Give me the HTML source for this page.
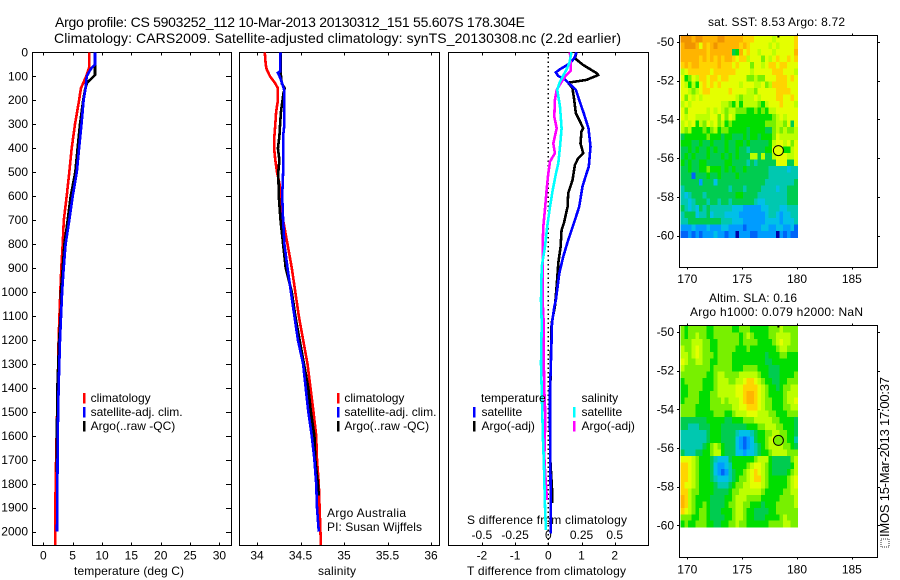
<!DOCTYPE html>
<html lang="en">
<head>
<meta charset="utf-8">
<title>Argo profile</title>
<style>
html,body{margin:0;padding:0;background:#fff;}
svg{display:block;font-family:"Liberation Sans",sans-serif;font-size:12px;fill:#000;}
</style>
</head>
<body>
<svg id="fig" xmlns="http://www.w3.org/2000/svg" width="900" height="580" viewBox="0 0 900 580">
<rect x="0" y="0" width="900" height="580" fill="#fff"/>
<text x="55" y="27" font-size="14" textLength="470" lengthAdjust="spacing">Argo profile: CS 5903252_112 10-Mar-2013 20130312_151 55.607S 178.304E</text>
<text x="54" y="43" font-size="14" textLength="567" lengthAdjust="spacing">Climatology: CARS2009. Satellite-adjusted climatology: synTS_20130308.nc (2.2d earlier)</text>
<text x="74" y="575" textLength="110" lengthAdjust="spacing">temperature (deg C)</text>
<text x="318" y="575" textLength="38" lengthAdjust="spacing">salinity</text>
<text x="467" y="575" textLength="159" lengthAdjust="spacing">T difference from climatology</text>
<text x="467" y="524" textLength="160" lengthAdjust="spacing">S difference from climatology</text>
<text x="327" y="517" textLength="79" lengthAdjust="spacing">Argo Australia</text>
<text x="327" y="531" textLength="95" lengthAdjust="spacing">PI: Susan Wijffels</text>
<text x="708" y="26" textLength="137" lengthAdjust="spacing">sat. SST: 8.53 Argo: 8.72</text>
<text x="709" y="302" textLength="88" lengthAdjust="spacing">Altim. SLA: 0.16</text>
<text x="690" y="316" textLength="173" lengthAdjust="spacing">Argo h1000: 0.079 h2000: NaN</text>
<rect x="881" y="539" width="8" height="8" fill="none" stroke="#333" stroke-width="1" stroke-dasharray="1 1"/>
<text transform="translate(889,537) rotate(-90)" textLength="160" lengthAdjust="spacing" font-size="13">IMOS 15-Mar-2013 17:00:37</text>
<g id="layer"></g>
</svg>
<script>
// ---- Profile data ----
var depthTicks = [0,100,200,300,400,500,600,700,800,900,1000,1100,1200,1300,1400,1500,1600,1700,1800,1900,2000];
var tempTicks = [0,5,10,15,20,25,30];
var salTicks = [34,34.5,35,35.5,36];
var tDiffTicks = [-2,-1,0,1,2];
var sDiffLabels = ["-0.5","-0.25","0","0.25","0.5"];
var lonTicks = [170,175,180,185];
var latTicks = [-50,-52,-54,-56,-58,-60];

var tempClimDepth = [0,60,100,150,200,300,400,500,600,700,800,900,1000,1200,1400,1600,1800,2055];
var tempClim = [7.84,7.84,7.3,6.4,6.1,5.4,4.83,4.43,3.98,3.5,3.3,3.07,2.9,2.6,2.45,2.27,2.1,2.05];
var tempSatDepth = [0,50,70,100,150,200,300,400,500,600,700,800,900,1000,1200,1400,1600,1800,2000];
var tempSat = [8.8,8.8,8.07,7.4,7.2,6.87,6.5,6.1,5.7,5.0,4.43,3.8,3.47,3.2,2.85,2.6,2.45,2.4,2.33];
var tempArgoDepth = [0,50,95,110,125,150,200,300,400,500,600,700,800,900,1000,1060,1200,1400,1700,1750];
var tempArgo = [8.8,8.8,8.8,8.2,7.5,7.15,6.8,6.25,5.85,5.45,4.66,4.15,3.6,3.3,3.0,3.05,2.7,2.4,2.27,2.27];

var salClimDepth = [0,50,70,100,130,150,200,250,300,350,400,450,500,550,600,700,800,900,1000,1100,1200,1300,1400,1500,1600,1700,1800,1900,2055];
var salClim = [34.09,34.1,34.11,34.15,34.21,34.24,34.24,34.22,34.21,34.2,34.196,34.21,34.23,34.26,34.28,34.3,34.35,34.4,34.44,34.48,34.53,34.58,34.615,34.65,34.68,34.69,34.71,34.72,34.735];
var salSatDepth = [0,80,85,100,130,160,300,350,450,500,600,700,800,900,1000,1100,1200,1300,1400,1500,1600,1700,1800,1900,2000];
var salSat = [34.27,34.265,34.24,34.26,34.29,34.315,34.315,34.3,34.3,34.3,34.29,34.3,34.315,34.35,34.39,34.43,34.47,34.53,34.56,34.59,34.63,34.66,34.68,34.69,34.71];
var salArgoDepth = [0,80,130,150,170,250,300,350,400,450,500,600,700,800,900,1000,1100,1200,1300,1400,1500,1600,1700,1800,1850];
var salArgo = [34.27,34.27,34.285,34.32,34.305,34.275,34.265,34.257,34.24,34.257,34.245,34.25,34.27,34.3,34.33,34.4,34.44,34.49,34.54,34.59,34.62,34.66,34.67,34.7,34.71];

var tDiffSatDepth = [0,25,46,71,84,99,113,127,157,199,255,317,394,477,519,560,644,713,783,853,922,1033,1061,1131,1242,1409,1548,1826,2007];
var tDiffSat = [0.85,0.78,0.65,0.35,0.23,0.3,0.5,0.6,0.83,0.93,1.07,1.21,1.27,1.22,1.12,1.03,0.93,0.77,0.6,0.45,0.33,0.23,0.18,0.11,0.09,0.05,0.05,0.07,0.07];
var tDiffArgoDepth = [0,25,53,88,95,115,127,150,199,255,282,317,331,380,421,442,470,533,588,644,713,741,811,880,978,1061,1131,1400,1700,1842,1880];
var tDiffArgo = [0.85,0.8,1.05,1.47,1.5,1.15,0.6,0.73,0.78,0.83,0.93,1.05,1,0.97,1.05,0.9,0.8,0.73,0.6,0.58,0.47,0.4,0.37,0.3,0.25,0.2,0.1,0.06,0.06,0.12,0.12];
var sDiffSatDepth = [0,46,71,102,129,157,227,317,394,463,505,575,644,727,811,894,1033,1131,1298,1409,1617,1715,1895,1993];
var sDiffSat = [0.175,0.158,0.138,0.108,0.083,0.068,0.088,0.1,0.088,0.075,0.058,0.033,0.013,-0.008,-0.025,-0.05,-0.055,-0.05,-0.055,-0.05,-0.04,-0.033,-0.025,-0.018];
var sDiffArgoDepth = [0,46,77,102,129,157,199,269,317,380,421,456,505,575,644,727,811,922,1033,1131,1270,1409,1479,1548,1687,1757,1868];
var sDiffArgo = [0.163,0.168,0.168,0.125,0.093,0.063,0.05,0.045,0.063,0.038,0.05,0.013,0,-0.013,-0.023,-0.038,-0.043,-0.043,-0.043,-0.035,-0.035,-0.03,-0.025,-0.023,-0.03,-0.023,-0.01];

// ---- Map data: colour-scale level per cell, north to south, west to east ----
var sstGrid = [
[12,12,12,11,12,12,11,11,11,11,12,12,11,11,11,11,11,10,10,10,9,9,9,9,9,8,9,9,9,9,9,10],
[11,12,12,12,11,9,11,10,11,12,11,11,11,11,11,11,10,11,10,9,9,9,9,9,8,9,8,9,9,9,9,10],
[11,11,11,11,11,11,11,10,11,11,11,11,11,11,5,6,11,9,10,9,9,8,9,9,9,8,9,9,9,9,9,11],
[11,11,11,11,11,10,11,10,11,10,11,10,11,11,10,9,10,10,8,9,9,9,7,9,8,9,10,9,9,10,9,10],
[10,11,10,11,11,10,10,10,10,10,11,10,10,10,9,10,9,9,9,7,9,9,8,9,10,10,9,10,10,9,9,9],
[8,9,10,10,10,10,10,10,9,10,10,10,10,10,10,9,9,9,9,8,9,9,9,9,9,10,10,10,9,9,9,8],
[9,6,7,9,8,10,10,9,10,10,9,10,10,9,9,9,9,9,7,7,8,7,7,9,9,9,10,10,10,9,10,9],
[9,8,6,8,6,9,10,9,10,9,10,9,9,9,9,9,8,9,9,9,8,8,9,7,8,10,10,10,10,9,9,9],
[9,9,8,7,8,9,10,10,9,9,9,9,9,10,9,9,9,9,8,8,7,9,9,9,9,9,10,10,10,10,9,9],
[9,7,9,8,9,8,9,9,9,9,9,9,9,9,9,8,7,8,8,8,9,8,9,9,9,9,10,10,9,9,10,9],
[8,9,8,9,9,9,9,9,9,9,9,8,8,7,6,8,6,8,8,8,8,7,6,8,9,9,9,10,9,9,9,8],
[9,7,9,9,9,9,9,8,9,8,9,8,7,8,8,7,7,7,6,6,7,6,7,6,8,8,9,9,9,9,9,9],
[9,8,9,9,8,8,8,8,9,9,7,9,7,9,8,6,6,6,6,6,6,6,6,6,6,7,8,9,8,9,9,9],
[8,9,8,9,6,8,7,9,8,9,7,8,6,7,6,6,6,6,6,6,6,6,6,7,7,7,8,8,7,9,5,9],
[8,7,8,6,6,6,7,6,7,8,6,7,7,6,6,6,6,6,5,6,6,6,6,5,5,7,8,7,8,7,7,8],
[5,6,6,6,6,6,6,7,6,6,6,5,6,6,5,5,5,6,5,6,6,5,6,6,6,7,9,8,8,8,8,8],
[6,6,6,5,5,6,5,5,6,5,5,5,6,5,5,6,6,5,6,5,5,5,5,5,6,8,9,9,8,9,7,9],
[5,5,6,5,6,5,5,6,5,6,5,5,6,5,5,6,5,5,4,5,5,5,5,6,6,9,9,8,6,6,8,9],
[5,6,5,6,5,5,5,6,5,5,5,6,5,6,5,6,5,5,5,8,8,5,8,5,5,8,9,9,9,8,8,9],
[6,5,6,5,5,6,6,5,5,5,5,5,6,6,5,5,5,5,4,5,4,5,5,5,5,5,9,9,9,5,5,9],
[5,5,6,5,5,6,6,7,6,6,6,5,6,5,6,5,5,6,5,5,5,5,5,5,4,4,4,4,4,3,4,4],
[5,5,5,1,5,5,5,6,5,5,6,5,5,5,5,6,5,5,5,5,5,5,5,5,4,4,4,4,4,4,4,4],
[5,5,5,5,5,2,5,5,5,3,5,5,5,5,5,5,5,5,5,5,5,5,5,4,4,4,4,4,4,4,4,5],
[4,5,5,5,5,5,5,5,5,5,5,5,5,4,5,5,5,4,5,5,5,5,4,4,4,4,3,4,4,5,5,5],
[4,3,4,5,5,5,4,5,5,5,5,5,5,5,5,6,6,5,5,5,5,4,4,4,4,4,4,4,4,5,5,5],
[4,4,3,4,5,5,5,4,5,5,4,5,5,4,5,5,5,5,5,5,4,3,3,4,4,4,4,4,4,5,5,5],
[5,4,3,4,3,5,4,5,4,4,4,4,4,4,3,3,3,2,2,2,2,2,3,3,4,4,4,3,3,4,4,4],
[4,5,5,5,3,4,4,5,3,4,4,4,3,3,3,3,2,2,2,2,2,2,2,3,4,4,3,2,3,3,4,4],
[4,4,5,5,5,5,5,5,5,5,5,4,4,4,3,3,3,2,2,2,2,2,2,3,3,3,3,2,3,3,3,4],
[2,2,2,3,2,2,2,3,2,2,2,3,3,2,2,2,2,1,2,2,2,2,3,3,2,2,3,3,2,2,3,1],
[1,1,2,1,2,1,2,2,2,3,2,2,1,2,2,0,2,2,2,1,1,2,2,2,2,2,0,2,1,2,1,1]
];
var slaGrid = [
[7,6,7,7,7,7,7,6,6,7,7,7,7,7,6,6,7,7,7,6,6,6,6,6,7,7,7,8,7,7,7,7],
[7,6,7,7,8,7,7,6,6,7,7,7,7,7,7,7,6,7,8,7,6,6,6,6,7,7,8,8,8,8,7,7],
[7,7,7,8,8,8,7,7,6,6,7,7,7,7,7,7,6,7,7,7,7,6,6,6,6,7,8,9,8,8,7,7],
[8,7,7,8,9,8,7,7,6,6,7,7,7,7,7,6,6,6,7,6,6,6,6,6,6,6,7,8,8,7,7,7],
[8,8,7,8,9,8,7,7,7,6,7,7,7,7,6,6,6,6,6,6,6,6,6,5,6,6,6,7,7,6,6,6],
[9,8,7,7,8,8,7,7,6,6,7,7,7,7,6,6,6,6,6,6,6,6,6,5,5,6,6,6,6,6,6,6],
[8,7,7,7,7,7,7,7,6,7,7,7,7,7,6,6,6,7,7,7,7,6,6,6,5,5,5,6,6,6,6,6],
[7,7,7,7,7,7,7,6,6,7,8,8,7,7,7,7,8,8,8,8,8,7,6,6,5,5,5,6,6,6,6,7],
[6,7,7,7,7,7,6,6,6,7,8,8,8,7,7,8,8,9,10,10,9,8,7,6,6,5,5,6,6,7,7,7],
[6,6,7,7,7,7,6,6,6,7,8,8,8,8,8,9,9,10,10,10,10,9,8,7,6,6,5,6,7,7,8,8],
[6,6,7,7,7,6,6,6,7,7,8,8,8,8,8,9,9,10,11,11,10,9,8,7,6,6,6,6,7,8,8,8],
[6,7,7,7,7,6,6,6,7,7,7,8,7,8,8,8,9,10,11,11,10,9,8,7,7,6,6,6,7,8,8,9],
[7,7,7,7,6,6,6,6,7,7,7,7,7,7,8,8,9,9,10,10,10,9,8,7,7,6,6,6,7,7,8,8],
[7,7,7,7,6,6,6,6,6,7,7,7,6,6,7,8,8,8,9,9,9,8,8,8,7,7,6,6,6,7,7,7],
[5,5,5,5,5,5,5,6,6,6,6,6,5,5,6,6,6,7,7,7,8,8,8,8,8,7,7,6,6,6,6,5],
[5,5,4,4,4,5,5,5,6,6,6,5,5,5,5,5,5,5,6,6,6,7,7,8,8,8,7,7,6,6,6,5],
[4,4,4,4,4,4,4,5,6,6,6,5,5,5,5,4,3,3,3,4,5,6,6,7,7,8,8,7,7,6,6,5],
[4,4,4,4,4,4,4,5,6,6,6,5,5,5,5,3,2,1,2,3,5,6,6,7,8,9,9,8,7,6,6,4],
[4,4,4,4,4,4,5,6,7,8,7,6,5,5,5,3,2,1,2,3,4,5,6,7,8,8,8,8,7,7,6,5],
[5,4,4,4,5,5,6,6,7,8,8,6,5,5,5,3,3,2,3,3,4,5,6,6,7,8,8,8,8,7,7,7],
[9,9,9,8,7,6,6,6,5,4,3,3,3,5,6,6,6,6,6,6,7,8,8,8,6,5,5,5,5,5,7,8],
[10,10,9,8,7,6,6,6,5,3,2,2,3,4,6,6,6,6,7,8,9,9,8,7,6,5,5,5,5,5,6,8],
[10,10,9,8,7,6,6,6,5,3,2,1,2,4,5,6,6,7,8,9,10,9,8,7,6,5,5,5,5,6,7,8],
[10,10,9,8,7,6,6,6,5,4,3,3,3,4,5,6,7,7,8,9,10,10,8,7,6,6,6,6,6,7,8,9],
[10,9,9,8,7,6,6,6,6,5,4,4,4,5,6,7,7,8,8,9,9,9,8,7,6,6,6,6,6,7,8,9],
[10,10,8,7,7,6,6,6,6,5,5,5,5,6,7,7,8,8,8,8,8,8,7,6,6,6,6,6,7,7,8,8],
[11,10,8,7,6,6,6,6,5,5,5,5,6,6,7,8,8,8,7,7,7,7,6,6,6,6,6,7,7,7,7,8],
[11,10,8,7,6,6,7,6,5,5,5,5,6,7,7,8,8,7,7,6,6,6,5,6,6,6,7,7,7,7,7,8],
[10,9,8,7,6,7,7,6,5,5,5,6,6,6,7,8,8,7,6,6,5,5,5,5,6,6,7,7,7,7,7,7],
[7,7,7,6,6,7,7,6,5,5,5,5,6,6,7,8,8,7,6,6,5,5,5,6,6,6,6,7,8,7,7,7],
[6,7,6,6,7,7,7,6,6,5,5,6,6,7,7,8,7,7,6,6,6,6,6,6,7,7,7,7,8,8,7,7]
];
var floatLon = [178.304];
var floatLat = [-55.607];
var sstAtFloat = [8.6];
var slaAtFloat = [7.4];
var colorScale = ["#0000a8","#0064f8","#009cff","#00c0e8","#00c8b0","#00cc50","#00de00","#78f000","#bcff00","#e4ff00","#ffd400","#ffb400","#f09400"];

// ---- Axis functions ----
function depthY(d){ return 52.3 + d*0.2397; }
function tempX(t){ return 43.3 + t*5.87; }
function salX(s){ return 257 + (s-34)*87; }
function diffX(t){ return 548.3 + t*33.2; }
function sDiffX(s){ return diffX(s*4); }
function lonX(l){ return 687.3 + (l-170)*10.97; }
function sstLatY(l){ return 42 + (-l-50)*19.37; }
function slaLatY(l){ return 332 + (-l-50)*19.33; }
function levelColor(v){
  var i = Math.max(0, Math.min(colorScale.length-1, Math.round(v)));
  return colorScale[i];
}

var NS = "http://www.w3.org/2000/svg";
var layer = document.getElementById("layer");
var LINE_W = 2.6;
function make(tag, attrs, parent){
  var el = document.createElementNS(NS, tag);
  for (var k in attrs) el.setAttribute(k, attrs[k]);
  (parent || layer).appendChild(el);
  return el;
}
function frame(x0,y0,x1,y1,name){
  var el = make("rect",{x:x0,y:y0,width:x1-x0,height:y1-y0,fill:"none",stroke:"#000","stroke-width":1,"shape-rendering":"crispEdges"});
  
  
}
function tick(x0,y0,x1,y1,name){
  var el = make("line",{x1:x0,y1:y0,x2:x1,y2:y1,stroke:"#000","stroke-width":1,"shape-rendering":"crispEdges"});
  
  
}
function label(x,y,str,anchor,name){
  var el = make("text",{x:x,y:y,"text-anchor":anchor});
  el.textContent = str;
  
  
}
function profile(xs,depths,xf,color,width,name){
  var pts = [];
  for (var i=0;i<xs.length;i++) pts.push(xf(xs[i]).toFixed(1)+","+depthY(depths[i]).toFixed(1));
  var el = make("polyline",{points:pts.join(" "),fill:"none",stroke:color,"stroke-width":width,"shape-rendering":"crispEdges"});
  
  
}
function legendEntry(x,y,color,text,tx,name){
  var el = make("rect",{x:x-1,y:y-9,width:2.4,height:10.5,fill:color,"shape-rendering":"crispEdges"});
  
  
  label(tx,y,text,"start",name+'-label');
}

var PT=52.5, PB=545.5;

// ---- Panel 1: temperature ----
frame(32.5,PT,231.5,PB,"temperature-panel-frame");
tempTicks.forEach(function(t){
  var x=Math.round(tempX(t))+0.5;
  tick(x,PT,x,PT+3,"temperature-top-tick");
  tick(x,PB,x,PB-3,"temperature-bottom-tick");
  label(tempX(t),559.5,String(t),"middle","temperature-tick-label");
});
depthTicks.forEach(function(d){
  var y=Math.round(depthY(d))+0.5;
  tick(32.5,y,36,y,"depth-left-tick");
  tick(231.5,y,226,y,"depth-right-tick");
  label(28,depthY(d)+4,String(d),"end","depth-tick-label");
});
profile(tempClim,tempClimDepth,tempX,"#ff0000",LINE_W,"temperature-climatology-line");
profile(tempArgo,tempArgoDepth,tempX,"#000000",LINE_W,"temperature-argo-line");
profile(tempSat,tempSatDepth,tempX,"#0000ff",LINE_W,"temperature-satellite-line");

// ---- Panel 2: salinity ----
frame(239.5,PT,439.5,PB,"salinity-panel-frame");
salTicks.forEach(function(s){
  var x=Math.round(salX(s))+0.5;
  tick(x,PT,x,PT+3,"salinity-top-tick");
  tick(x,PB,x,PB-3,"salinity-bottom-tick");
  label(salX(s),559.5,String(s),"middle","salinity-tick-label");
});
profile(salClim,salClimDepth,salX,"#ff0000",LINE_W,"salinity-climatology-line");
profile(salArgo,salArgoDepth,salX,"#000000",LINE_W,"salinity-argo-line");
profile(salSat,salSatDepth,salX,"#0000ff",LINE_W,"salinity-satellite-line");

// ---- Panel 3: differences ----
frame(448.5,PT,648.5,PB,"difference-panel-frame");
tDiffTicks.forEach(function(t,i){
  var x=Math.round(diffX(t))+0.5;
  tick(x,PT,x,PT+3,"difference-top-tick");
  tick(x,PB,x,PB-3,"difference-bottom-tick");
  label(diffX(t),559.5,String(t),"middle","t-difference-tick-label");
  label(diffX(t),539,sDiffLabels[i],"middle","s-difference-tick-label");
});
var zero = make("line",{x1:diffX(0),y1:PT,x2:diffX(0),y2:PB,stroke:"#000","stroke-width":1.4,"stroke-dasharray":"1.5 3","shape-rendering":"crispEdges"});


profile(tDiffArgo,tDiffArgoDepth,diffX,"#000000",LINE_W,"t-difference-argo-line");
profile(tDiffSat,tDiffSatDepth,diffX,"#0000ff",LINE_W,"t-difference-satellite-line");
profile(sDiffArgo,sDiffArgoDepth,sDiffX,"#ff00ff",LINE_W,"s-difference-argo-line");
profile(sDiffSat,sDiffSatDepth,sDiffX,"#00ffff",LINE_W,"s-difference-satellite-line");

// ---- Legends ----
legendEntry(84,402,"#ff0000","climatology",90.6,"temp-legend-climatology");
legendEntry(84,416,"#0000ff","satellite-adj. clim.",90.6,"temp-legend-satellite");
legendEntry(84,430,"#000000","Argo(..raw -QC)",90.6,"temp-legend-argo");
legendEntry(338,402,"#ff0000","climatology",344.4,"sal-legend-climatology");
legendEntry(338,416,"#0000ff","satellite-adj. clim.",344.4,"sal-legend-satellite");
legendEntry(338,430,"#000000","Argo(..raw -QC)",344.4,"sal-legend-argo");
label(481,402,"temperature","start","diff-legend-temperature-header");
legendEntry(474,416,"#0000ff","satellite",481.5,"diff-legend-t-satellite");
legendEntry(474,430,"#000000","Argo(-adj)",481.5,"diff-legend-t-argo");
label(581.5,402,"salinity","start","diff-legend-salinity-header");
legendEntry(574,416,"#00ffff","satellite",581.5,"diff-legend-s-satellite");
legendEntry(574,430,"#ff00ff","Argo(-adj)",581.5,"diff-legend-s-argo");

// ---- Maps ----
function drawMap(grid,latY,top,bottom,labelBase,markerVal,prefix){
  var lonW=169.4, lonStep=1/3, latN=-49.69, latStep=10.41/31;
  grid.forEach(function(row,r){
    row.forEach(function(v,c){
      var x0=lonX(lonW+c*lonStep), x1=lonX(lonW+(c+1)*lonStep);
      var y0=latY(latN-r*latStep), y1=latY(latN-(r+1)*latStep);
      var cell=make("rect",{x:x0.toFixed(2),y:y0.toFixed(2),width:(x1-x0+0.3).toFixed(2),height:(y1-y0+0.3).toFixed(2),fill:levelColor(v),"shape-rendering":"crispEdges"});
      
      
    });
  });
  frame(679.5,top,877.5,bottom,prefix+"-frame");
  lonTicks.forEach(function(l){
    var x=Math.round(lonX(l))+0.5;
    tick(x,top,x,top-2,prefix+"-top-tick");
    tick(x,bottom,x,bottom+2,prefix+"-bottom-tick");
    label(lonX(l),labelBase,String(l),"middle",prefix+"-lon-label");
  });
  latTicks.forEach(function(l){
    var y=Math.round(latY(l))+0.5;
    tick(679.5,y,677,y,prefix+"-left-tick");
    tick(877.5,y,880,y,prefix+"-right-tick");
    label(674,latY(l)+4,String(l),"end",prefix+"-lat-label");
  });
  var dot=make("rect",{x:lonX(floatLon[0])-1,y:top,width:2,height:2,fill:"#000"});
  
  
  var m=make("circle",{cx:lonX(floatLon[0]),cy:latY(floatLat[0]),r:5,fill:levelColor(markerVal),stroke:"#000","stroke-width":1});
  
  
}
drawMap(sstGrid,sstLatY,35.5,267.5,283,sstAtFloat[0],"sst-map");
drawMap(slaGrid,slaLatY,325.5,557.5,573.5,slaAtFloat[0],"sla-map");
</script>
</body>
</html>
